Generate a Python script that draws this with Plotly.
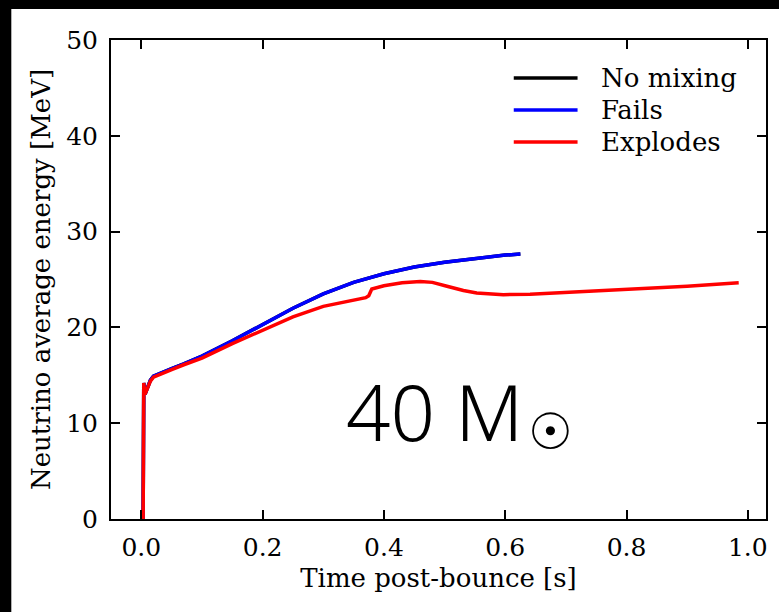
import plotly.graph_objects as go

# ---- data ----
t_fails = [0.003, 0.004, 0.006, 0.010, 0.015, 0.020, 0.030, 0.050, 0.070, 0.100, 0.150,
           0.200, 0.250, 0.300, 0.350, 0.400, 0.450, 0.500, 0.550, 0.600, 0.625]
e_fails = [0.0, 14.2, 13.0, 13.7, 14.5, 14.9, 15.2, 15.7, 16.2, 17.0, 18.6,
           20.3, 22.0, 23.5, 24.7, 25.6, 26.3, 26.8, 27.2, 27.55, 27.65]

t_nomix = t_fails
e_nomix = e_fails

t_expl = [0.003, 0.004, 0.006, 0.010, 0.015, 0.020, 0.030, 0.050, 0.070, 0.100, 0.150,
          0.200, 0.250, 0.300, 0.350, 0.370, 0.375, 0.380, 0.400, 0.430, 0.460, 0.480,
          0.504, 0.531, 0.553, 0.575, 0.597, 0.641, 0.720, 0.800, 0.900, 0.985]
e_expl = [0.0, 14.2, 13.0, 13.7, 14.4, 14.8, 15.1, 15.6, 16.1, 16.8, 18.3,
          19.7, 21.1, 22.2, 22.8, 23.1, 23.3, 24.0, 24.35, 24.65, 24.8, 24.7,
          24.3, 23.85, 23.6, 23.5, 23.42, 23.45, 23.7, 24.0, 24.3, 24.65]

series_names = ["No mixing", "Fails", "Explodes"]
series_colors = ["black", "blue", "red"]

x_ticks = [0.0, 0.2, 0.4, 0.6, 0.8, 1.0]
y_ticks = [0, 10, 20, 30, 40, 50]

SERIF = "DejaVu Serif"
FS = 26

fig = go.Figure()
for name, color, xs, ys in zip(series_names, series_colors,
                               [t_nomix, t_fails, t_expl], [e_nomix, e_fails, e_expl]):
    fig.add_trace(go.Scatter(x=xs, y=ys, mode="lines", name=name,
                             line=dict(color=color, width=3.5), showlegend=False))

axis_common = dict(showgrid=False, zeroline=False, showline=True, linecolor="black",
                   linewidth=2, mirror="ticks", ticks="inside", ticklen=9, tickwidth=1.6,
                   tickcolor="black", tickfont=dict(family=SERIF, size=FS - 1, color="black"))

fig.update_xaxes(range=[-0.05, 1.03], tickvals=x_ticks,
                 ticktext=[f"{v:.1f}" for v in x_ticks],
                 title=dict(text="Time post-bounce [s]", font=dict(family=SERIF, size=FS, color="black"),
                            standoff=8),
                 ticklabelstandoff=5, **axis_common)
fig.update_yaxes(range=[0, 50], tickvals=y_ticks, ticktext=[str(v) for v in y_ticks],
                 title=dict(text="Neutrino average energy [MeV]", font=dict(family=SERIF, size=FS, color="black"),
                            standoff=8),
                 ticklabelstandoff=6, **axis_common)

# manual legend (long line samples like matplotlib)
leg_y = [0.9207, 0.8539, 0.7871]
for name, color, yy in zip(series_names, series_colors, leg_y):
    fig.add_shape(type="line", xref="paper", yref="paper", x0=0.6149, x1=0.7123, y0=yy, y1=yy,
                  line=dict(color=color, width=3.5))
    fig.add_annotation(xref="paper", yref="paper", x=0.7443, y=yy, text=name, showarrow=False,
                       xanchor="left", yanchor="middle",
                       font=dict(family=SERIF, size=FS, color="black"))

# mass label
fig.add_annotation(x=0.4835, y=11.3, text="40 M", showarrow=False, xanchor="center", yanchor="middle",
                   font=dict(family="Noto Sans", size=78, color="black", weight=300))
fig.add_annotation(x=0.675, y=9.1, text="☉", showarrow=False, xanchor="center", yanchor="middle",
                   font=dict(family="DejaVu Sans", size=50, color="black"))

# white strip right of the plot frame
fig.add_shape(type="rect", xref="paper", yref="paper", x0=1.004, x1=1.03, y0=-0.25, y1=1.0647,
              fillcolor="white", line=dict(width=0), layer="below")
# black strips at top and left edges of the image
fig.add_shape(type="rect", xref="paper", yref="paper", x0=-0.17, x1=1.03, y0=1.0647, y1=1.09,
              fillcolor="black", line=dict(width=0), layer="above")
fig.add_shape(type="rect", xref="paper", yref="paper", x0=-0.17, x1=-0.1522, y0=-0.25, y1=1.09,
              fillcolor="black", line=dict(width=0), layer="above")

fig.update_layout(width=779, height=612, margin=dict(l=111, r=11, t=40, b=93),
                  paper_bgcolor="white", plot_bgcolor="white")

fig.write_html("out.html")
